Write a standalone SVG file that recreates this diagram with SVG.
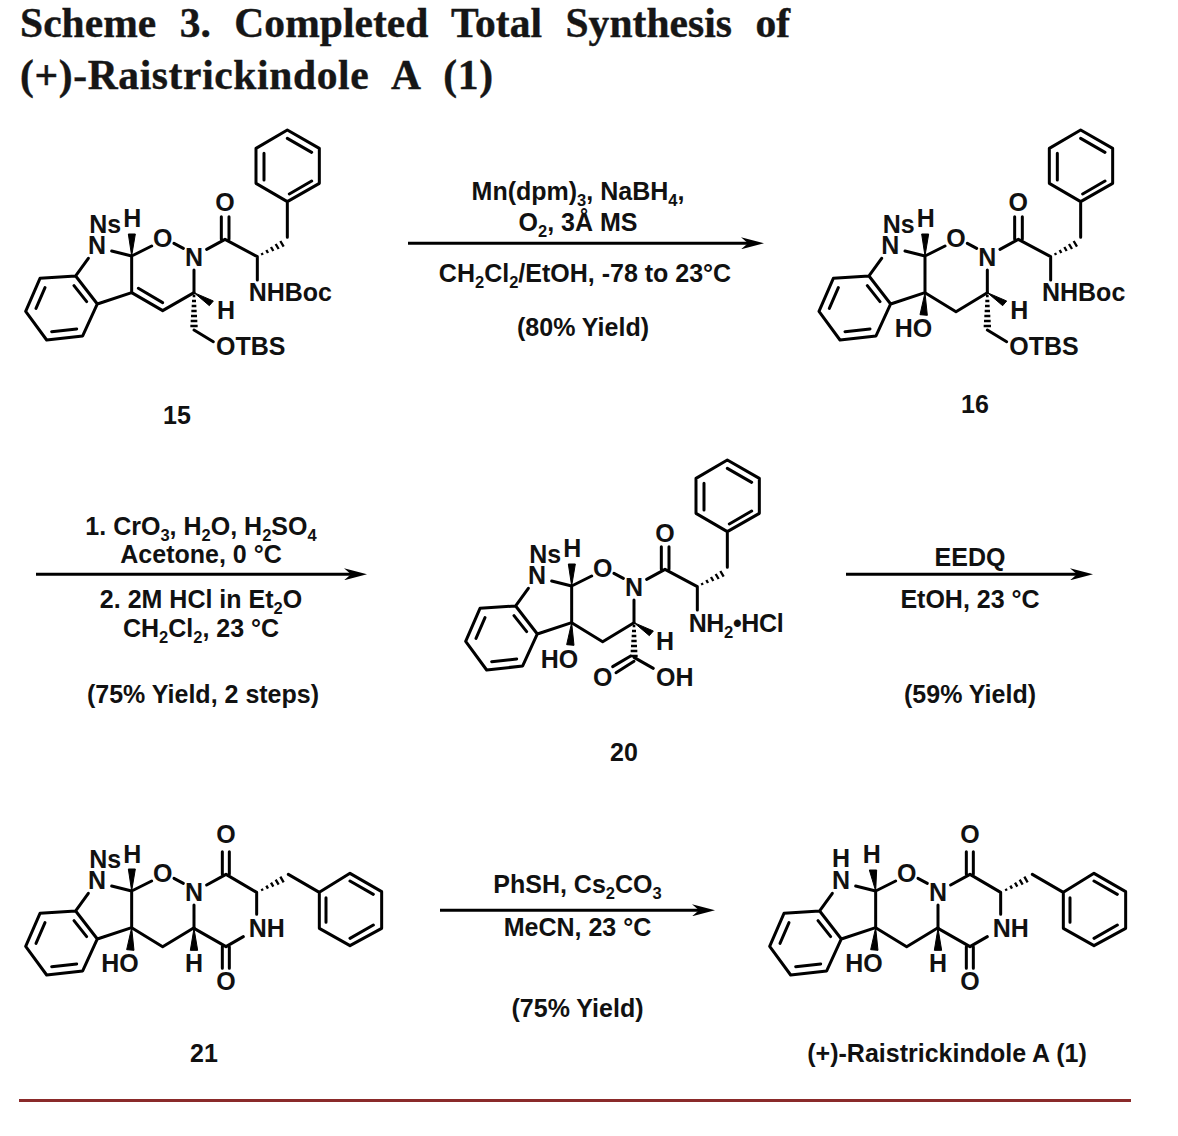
<svg xmlns="http://www.w3.org/2000/svg" xmlns:xlink="http://www.w3.org/1999/xlink" width="1178" height="1136" viewBox="0 0 1178 1136">
<style>
text{font-family:"Liberation Sans",Arial,sans-serif;font-weight:700;fill:#111}
.t{font-size:25px;text-anchor:middle}
.s{font-size:16.5px}
.title{font-family:"Liberation Serif","Times New Roman",serif;font-size:41.5px;fill:#161616;stroke:#161616;stroke-width:.4;word-spacing:13px}
.m text{font-size:75px}
.m .c{text-anchor:middle}
.m .ms{font-size:50px}
.b{fill:none;stroke:#000;stroke-width:9;stroke-linecap:round;stroke-linejoin:round}
.h{fill:none;stroke:#000;stroke-width:7}
.w{fill:#000;stroke:#000;stroke-width:3;stroke-linejoin:round}
.a{stroke:#000;stroke-width:3;fill:none;marker-end:url(#ah)}
</style>
<defs>
<marker id="ah" markerUnits="userSpaceOnUse" viewBox="0 0 23 12" refX="7" refY="6" markerWidth="23" markerHeight="12" orient="auto"><path d="M0,0L23,6L0,12L7,6z" fill="#000"/></marker>
<g id="core">
<path class="b" d="M197,468L90,475L47,574L110,660L218,648L262,552ZM192,497L230,545M105,503L78,565M125,635L200,627M235,415L197,468M305,393L365,408L425,378M492,370L520,385M365,408L365,518L262,552M552,450L552,518"/>
</g>
<g id="sat">
<path class="b" d="M365,518L458,575L552,518"/>
<path class="w" d="M365,518L350,584L372,586Z"/>
</g>
<path id="hside" class="h" d="M755,399L758,405M769,390L774,399M783,381L790,393M797,372L806,387M811,363L821,380"/>
<path id="hdown" class="h" d="M548,528H556M546,543H558M545,558H559M544,573H560M543,588H561M542,603H562M541,618H563"/>
<g id="chainup">
<path class="b" d="M590,388L645,358L742,410L742,480M634,358L634,290M657,358L657,290M832,352L832,245L738,190L738,85L832,30L928,85L928,190L832,245M762,180L762,100M832,55L905,97M838,222L905,183"/>
<use href="#hside"/>
</g>
<g id="dkp">
<path class="b" d="M590,390L648,358L740,412L740,478M700,545L648,575L552,520M637,358L637,290M658,358L658,290M637,575L637,640M658,575L658,640M835,358L928,412L1020,355L1115,410L1115,520L1020,572L928,520L928,412M948,428L948,502M1020,378L1090,418M1020,550L1090,510"/>
<use href="#hside" y="2"/>
<path class="w" d="M552,520L541,586L563,586Z"/>
</g>
</defs>

<g id="title">
<text class="title" x="20" y="37" textLength="770" lengthAdjust="spacing">Scheme 3. Completed Total Synthesis of</text>
<text class="title" x="20" y="89" textLength="473" lengthAdjust="spacing">(+)-Raistrickindole A (1)</text>
</g>

<g id="connectors">
<line class="a" x1="408" y1="243.3" x2="748" y2="243.3"/>
<line class="a" x1="36" y1="574.3" x2="351" y2="574.3"/>
<line class="a" x1="846" y1="574.3" x2="1077" y2="574.3"/>
<line class="a" x1="440" y1="910.3" x2="699" y2="910.3"/>
</g>

<g id="reagents-1">
<text class="t" x="578" y="200">Mn(dpm)<tspan class="s" dy="6">3</tspan><tspan dy="-6">, NaBH</tspan><tspan class="s" dy="6">4</tspan><tspan dy="-6">,</tspan></text>
<text class="t" x="578" y="231">O<tspan class="s" dy="6">2</tspan><tspan dy="-6">, 3Å MS</tspan></text>
<text class="t" x="585" y="282">CH<tspan class="s" dy="6">2</tspan><tspan dy="-6">Cl</tspan><tspan class="s" dy="6">2</tspan><tspan dy="-6">/EtOH, -78 to 23°C</tspan></text>
<text class="t" x="583" y="336">(80% Yield)</text>
</g>
<g id="reagents-2">
<text class="t" x="201" y="535">1. CrO<tspan class="s" dy="6">3</tspan><tspan dy="-6">, H</tspan><tspan class="s" dy="6">2</tspan><tspan dy="-6">O, H</tspan><tspan class="s" dy="6">2</tspan><tspan dy="-6">SO</tspan><tspan class="s" dy="6">4</tspan></text>
<text class="t" x="201" y="563">Acetone, 0 °C</text>
<text class="t" x="201" y="608">2. 2M HCl in Et<tspan class="s" dy="6">2</tspan><tspan dy="-6">O</tspan></text>
<text class="t" x="201" y="637">CH<tspan class="s" dy="6">2</tspan><tspan dy="-6">Cl</tspan><tspan class="s" dy="6">2</tspan><tspan dy="-6">, 23 °C</tspan></text>
<text class="t" x="203" y="703">(75% Yield, 2 steps)</text>
</g>
<g id="reagents-3">
<text class="t" x="970" y="566">EEDQ</text>
<text class="t" x="970" y="608">EtOH, 23 °C</text>
<text class="t" x="970" y="703">(59% Yield)</text>
</g>
<g id="reagents-4">
<text class="t" x="577.5" y="893">PhSH, Cs<tspan class="s" dy="6">2</tspan><tspan dy="-6">CO</tspan><tspan class="s" dy="6">3</tspan></text>
<text class="t" x="577.5" y="936">MeCN, 23 °C</text>
<text class="t" x="577.5" y="1017">(75% Yield)</text>
</g>

<g id="compound-15" class="m" transform="translate(10,120) scale(0.33333)">
<use href="#core"/><use href="#chainup"/>
<path class="b" d="M365,518L458,572L552,518M385,505L458,548"/>
<path class="w" d="M365,408L355,342L376,342Z"/>
<path class="w" d="M552,518L610,543L598,557Z"/>
<use href="#hdown"/>
<path class="b" d="M552,630L610,665"/>
<text x="238" y="338">Ns</text><text class="c" x="367" y="322">H</text><text class="c" x="261" y="402">N</text><text class="c" x="458" y="382">O</text><text class="c" x="552" y="437">N</text><text class="c" x="645" y="272">O</text><text x="716" y="542">NHBoc</text><text class="c" x="648" y="597">H</text><text x="618" y="705">OTBS</text>
</g>
<text class="t" x="177" y="424">15</text>

<g id="compound-16" class="m" transform="translate(803.33,120) scale(0.33333)">
<use href="#core"/><use href="#chainup"/><use href="#sat"/>
<path class="w" d="M365,408L355,342L376,342Z"/>
<path class="w" d="M552,518L610,543L598,557Z"/>
<use href="#hdown"/>
<path class="b" d="M552,630L610,665"/>
<text x="238" y="338">Ns</text><text class="c" x="367" y="322">H</text><text class="c" x="261" y="402">N</text><text class="c" x="458" y="382">O</text><text class="c" x="552" y="437">N</text><text class="c" x="645" y="272">O</text><text x="716" y="542">NHBoc</text><text class="c" x="648" y="597">H</text><text x="618" y="705">OTBS</text><text x="274" y="650">HO</text>
</g>
<text class="t" x="975" y="413">16</text>

<g id="compound-20" class="m" transform="translate(450,450) scale(0.33333)">
<use href="#core"/><use href="#chainup"/><use href="#sat"/>
<path class="w" d="M365,408L355,342L376,342Z"/>
<path class="w" d="M552,518L610,543L598,557Z"/>
<use href="#hdown"/>
<path class="b" d="M552,622L610,655M542,618L488,650M552,634L498,668"/>
<text x="238" y="338">Ns</text><text class="c" x="367" y="322">H</text><text class="c" x="261" y="402">N</text><text class="c" x="458" y="382">O</text><text class="c" x="552" y="437">N</text><text class="c" x="645" y="277">O</text><text x="716" y="545" textLength="285">NH<tspan class="ms" dy="18">2</tspan><tspan dy="-18">•HCl</tspan></text><text class="c" x="645" y="600">H</text><text x="272" y="653">HO</text><text class="c" x="458" y="707">O</text><text x="618" y="707">OH</text>
</g>
<text class="t" x="624" y="761">20</text>

<g id="compound-21" class="m" transform="translate(10,755) scale(0.33333)">
<use href="#core"/><use href="#dkp"/><use href="#sat"/>
<path class="w" d="M365,408L355,342L376,342Z"/>
<text x="238" y="338">Ns</text><text class="c" x="367" y="325">H</text><text class="c" x="261" y="402">N</text><text class="c" x="458" y="382">O</text><text class="c" x="552" y="437">N</text><text class="c" x="648" y="265">O</text><text x="716" y="545">NH</text><text class="c" x="552" y="650">H</text><text x="274" y="650">HO</text><text class="c" x="648" y="705">O</text>
</g>
<text class="t" x="204" y="1062">21</text>

<g id="compound-1" class="m" transform="translate(754,755) scale(0.33333)">
<use href="#core"/><use href="#dkp"/><use href="#sat"/>
<path class="w" d="M365,408L346,345L368,345Z"/>
<text class="c" x="261" y="335">H</text><text class="c" x="353" y="325">H</text><text class="c" x="261" y="402">N</text><text class="c" x="458" y="382">O</text><text class="c" x="552" y="437">N</text><text class="c" x="648" y="265">O</text><text x="716" y="545">NH</text><text class="c" x="552" y="650">H</text><text x="274" y="650">HO</text><text class="c" x="648" y="705">O</text>
</g>
<text class="t" x="947" y="1062">(+)-Raistrickindole A (1)</text>

<rect id="rule" x="19" y="1099" width="1112" height="3" fill="#8a2a2a"/>
</svg>
